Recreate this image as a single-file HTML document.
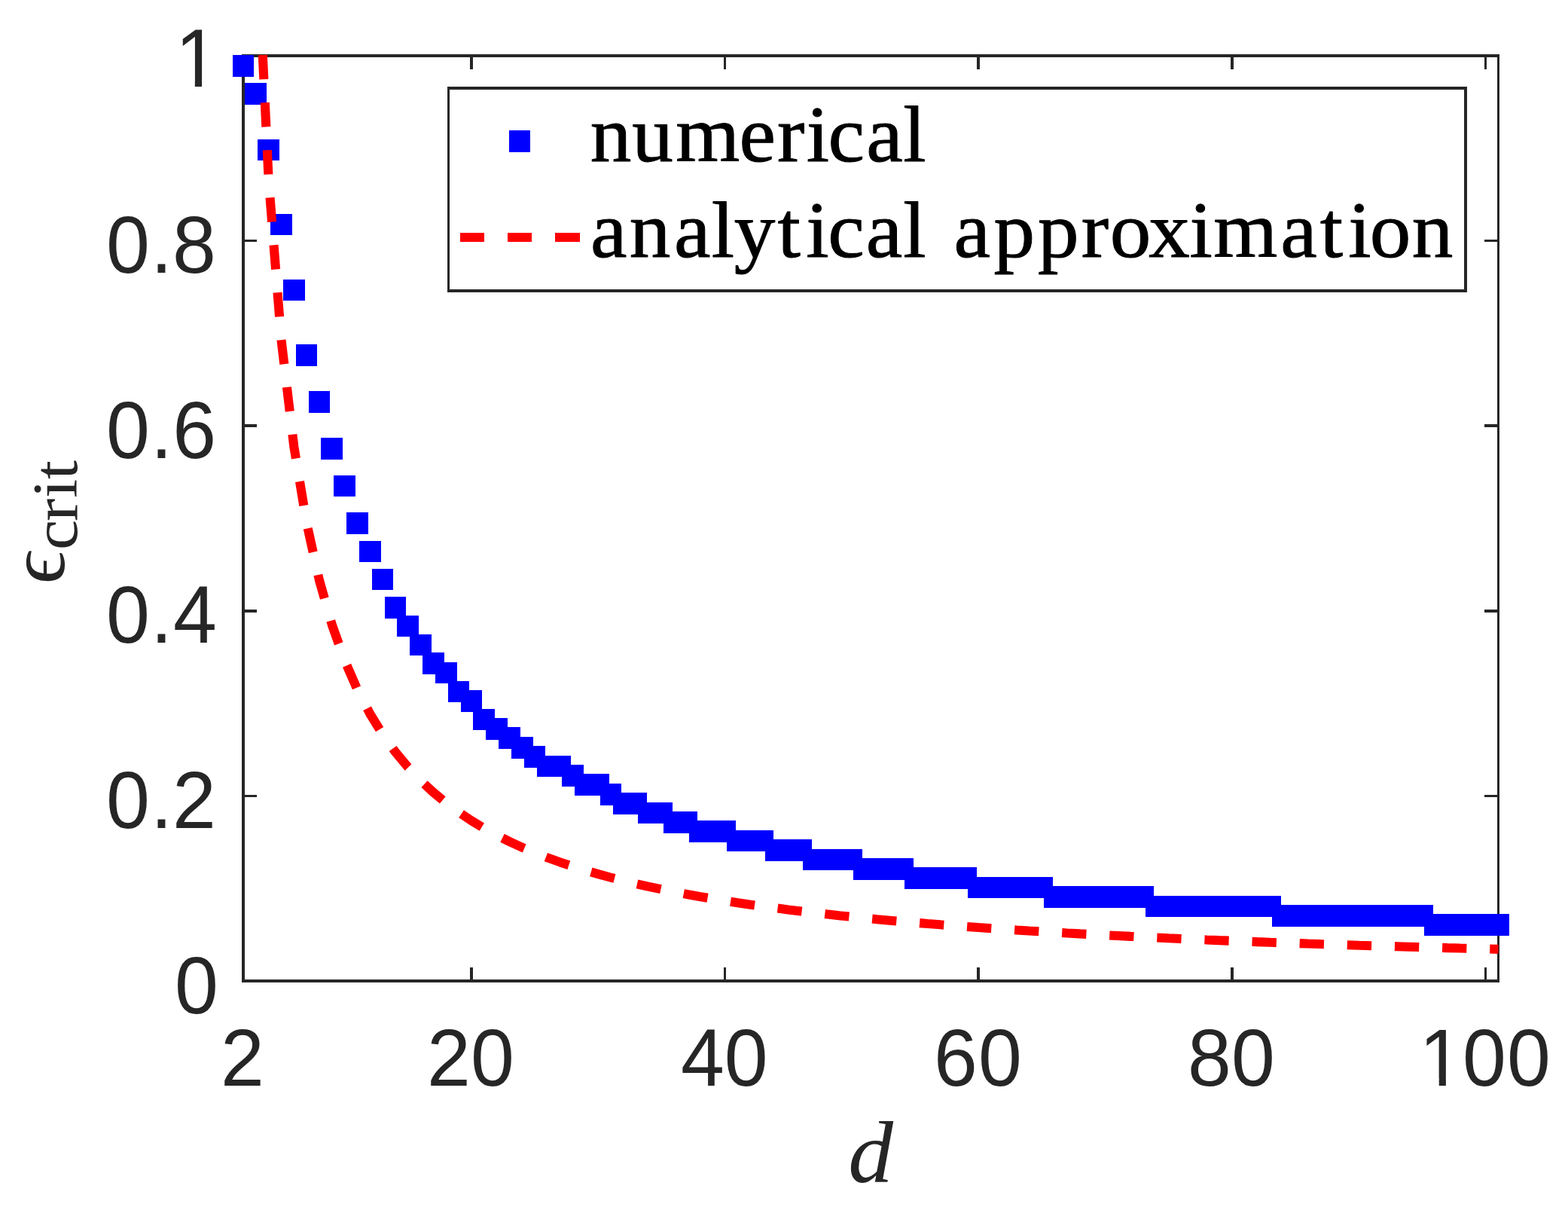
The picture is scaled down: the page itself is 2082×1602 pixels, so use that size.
<!DOCTYPE html>
<html lang="en"><head><meta charset="utf-8"><title>numerical vs analytical approximation</title>
<style>html,body{margin:0;padding:0;background:#fff}body{width:2082px;height:1602px}svg{display:block}text{white-space:pre}.tk{font-family:"Liberation Sans",sans-serif;fill:#262626}.lg{font-family:"Liberation Serif",serif;fill:#000;stroke:#000;stroke-width:1px;stroke-linejoin:round}.mi{font-family:"Liberation Serif",serif;font-style:italic;fill:#262626}.mr{font-family:"Liberation Serif",serif;fill:#262626}</style></head><body>
<svg width="2082" height="1602" viewBox="0 0 2082 1602" role="img" aria-label="Plot of critical epsilon versus d">
<rect x="0" y="0" width="2082" height="1602" fill="#fff"/>
<g id="axes" fill="#262626" shape-rendering="crispEdges">
<rect x="321" y="72" width="4" height="1232"/>
<rect x="1988" y="72" width="3" height="1232"/>
<rect x="321" y="72" width="1670" height="4"/>
<rect x="321" y="1300" width="1670" height="4"/>
<rect x="624" y="1284" width="4" height="16"/>
<rect x="624" y="76" width="4" height="16"/>
<rect x="961" y="1284" width="3" height="16"/>
<rect x="961" y="76" width="3" height="16"/>
<rect x="1297" y="1284" width="4" height="16"/>
<rect x="1297" y="76" width="4" height="16"/>
<rect x="1634" y="1284" width="4" height="16"/>
<rect x="1634" y="76" width="4" height="16"/>
<rect x="1971" y="1284" width="3" height="16"/>
<rect x="1971" y="76" width="3" height="16"/>
<rect x="325" y="318" width="16" height="3"/>
<rect x="1971" y="318" width="17" height="3"/>
<rect x="325" y="563" width="16" height="4"/>
<rect x="1971" y="563" width="17" height="4"/>
<rect x="325" y="809" width="16" height="4"/>
<rect x="1971" y="809" width="17" height="4"/>
<rect x="325" y="1055" width="16" height="3"/>
<rect x="1971" y="1055" width="17" height="3"/>
</g>
<g id="numerical" fill="#0000ff" shape-rendering="crispEdges">
<rect x="309" y="73" width="28" height="29"/>
<rect x="325" y="110" width="29" height="29"/>
<rect x="342" y="185" width="29" height="28"/>
<rect x="359" y="284" width="29" height="28"/>
<rect x="376" y="371" width="29" height="28"/>
<rect x="393" y="457" width="28" height="29"/>
<rect x="410" y="519" width="28" height="29"/>
<rect x="426" y="581" width="29" height="29"/>
<rect x="443" y="631" width="29" height="28"/>
<rect x="460" y="680" width="29" height="29"/>
<rect x="477" y="718" width="29" height="28"/>
<rect x="494" y="755" width="28" height="28"/>
<rect x="511" y="792" width="28" height="29"/>
<rect x="527" y="817" width="29" height="28"/>
<rect x="544" y="842" width="29" height="28"/>
<rect x="561" y="866" width="29" height="29"/>
<rect x="578" y="879" width="29" height="28"/>
<rect x="595" y="904" width="28" height="28"/>
<rect x="612" y="916" width="28" height="29"/>
<rect x="628" y="941" width="29" height="28"/>
<rect x="645" y="953" width="29" height="29"/>
<rect x="662" y="965" width="29" height="29"/>
<rect x="679" y="978" width="29" height="29"/>
<rect x="696" y="990" width="28" height="29"/>
<rect x="713" y="1003" width="28" height="28"/>
<rect x="729" y="1003" width="29" height="28"/>
<rect x="746" y="1015" width="29" height="29"/>
<rect x="763" y="1027" width="29" height="29"/>
<rect x="780" y="1027" width="29" height="29"/>
<rect x="797" y="1040" width="28" height="29"/>
<rect x="814" y="1052" width="28" height="29"/>
<rect x="830" y="1052" width="29" height="29"/>
<rect x="847" y="1065" width="29" height="28"/>
<rect x="864" y="1065" width="29" height="28"/>
<rect x="881" y="1077" width="29" height="29"/>
<rect x="898" y="1077" width="28" height="29"/>
<rect x="915" y="1089" width="28" height="29"/>
<rect x="931" y="1089" width="29" height="29"/>
<rect x="948" y="1089" width="29" height="29"/>
<rect x="965" y="1102" width="29" height="28"/>
<rect x="982" y="1102" width="29" height="28"/>
<rect x="999" y="1102" width="28" height="28"/>
<rect x="1016" y="1114" width="28" height="29"/>
<rect x="1032" y="1114" width="29" height="29"/>
<rect x="1049" y="1114" width="29" height="29"/>
<rect x="1066" y="1127" width="29" height="28"/>
<rect x="1083" y="1127" width="29" height="28"/>
<rect x="1100" y="1127" width="28" height="28"/>
<rect x="1117" y="1127" width="28" height="28"/>
<rect x="1133" y="1139" width="29" height="29"/>
<rect x="1150" y="1139" width="29" height="29"/>
<rect x="1167" y="1139" width="29" height="29"/>
<rect x="1184" y="1139" width="29" height="29"/>
<rect x="1201" y="1151" width="28" height="29"/>
<rect x="1218" y="1151" width="28" height="29"/>
<rect x="1234" y="1151" width="29" height="29"/>
<rect x="1251" y="1151" width="29" height="29"/>
<rect x="1268" y="1151" width="29" height="29"/>
<rect x="1285" y="1164" width="29" height="28"/>
<rect x="1302" y="1164" width="28" height="28"/>
<rect x="1319" y="1164" width="28" height="28"/>
<rect x="1335" y="1164" width="29" height="28"/>
<rect x="1352" y="1164" width="29" height="28"/>
<rect x="1369" y="1164" width="29" height="28"/>
<rect x="1386" y="1176" width="29" height="29"/>
<rect x="1403" y="1176" width="28" height="29"/>
<rect x="1420" y="1176" width="28" height="29"/>
<rect x="1436" y="1176" width="29" height="29"/>
<rect x="1453" y="1176" width="29" height="29"/>
<rect x="1470" y="1176" width="29" height="29"/>
<rect x="1487" y="1176" width="29" height="29"/>
<rect x="1504" y="1176" width="28" height="29"/>
<rect x="1521" y="1189" width="28" height="28"/>
<rect x="1537" y="1189" width="29" height="28"/>
<rect x="1554" y="1189" width="29" height="28"/>
<rect x="1571" y="1189" width="29" height="28"/>
<rect x="1588" y="1189" width="29" height="28"/>
<rect x="1605" y="1189" width="28" height="28"/>
<rect x="1622" y="1189" width="28" height="28"/>
<rect x="1638" y="1189" width="29" height="28"/>
<rect x="1655" y="1189" width="29" height="28"/>
<rect x="1672" y="1189" width="29" height="28"/>
<rect x="1689" y="1201" width="29" height="29"/>
<rect x="1706" y="1201" width="28" height="29"/>
<rect x="1723" y="1201" width="28" height="29"/>
<rect x="1739" y="1201" width="29" height="29"/>
<rect x="1756" y="1201" width="29" height="29"/>
<rect x="1773" y="1201" width="29" height="29"/>
<rect x="1790" y="1201" width="29" height="29"/>
<rect x="1807" y="1201" width="28" height="29"/>
<rect x="1824" y="1201" width="28" height="29"/>
<rect x="1840" y="1201" width="29" height="29"/>
<rect x="1857" y="1201" width="29" height="29"/>
<rect x="1874" y="1201" width="29" height="29"/>
<rect x="1891" y="1213" width="29" height="29"/>
<rect x="1908" y="1213" width="28" height="29"/>
<rect x="1925" y="1213" width="28" height="29"/>
<rect x="1941" y="1213" width="29" height="29"/>
<rect x="1958" y="1213" width="29" height="29"/>
<rect x="1975" y="1213" width="29" height="29"/>
</g>
<path id="analytical" d="M348.80,73.00 L356.67,238.60 L373.50,451.27 L390.34,593.05 L407.17,694.32 L424.00,770.28 L440.84,829.35 L457.67,876.61 L474.51,915.28 L491.34,947.50 L508.17,974.77 L525.01,998.14 L541.84,1018.39 L558.68,1036.11 L575.51,1051.75 L592.34,1065.65 L609.18,1078.09 L626.01,1089.28 L642.85,1099.41 L659.68,1108.61 L676.51,1117.02 L693.35,1124.73 L710.18,1131.81 L727.02,1138.36 L743.85,1144.42 L760.68,1150.04 L777.52,1155.28 L794.35,1160.17 L811.19,1164.74 L828.02,1169.03 L844.85,1173.06 L861.69,1176.85 L878.52,1180.42 L895.36,1183.80 L912.19,1186.99 L929.02,1190.02 L945.86,1192.89 L962.69,1195.62 L979.53,1198.21 L996.36,1200.68 L1013.19,1203.03 L1030.03,1205.28 L1046.86,1207.43 L1063.70,1209.48 L1080.53,1211.45 L1097.36,1213.34 L1114.20,1215.15 L1131.03,1216.88 L1147.87,1218.55 L1164.70,1220.15 L1181.53,1221.70 L1198.37,1223.18 L1215.20,1224.62 L1232.04,1226.00 L1248.87,1227.33 L1265.70,1228.62 L1282.54,1229.86 L1299.37,1231.06 L1316.21,1232.22 L1333.04,1233.35 L1349.87,1234.44 L1366.71,1235.49 L1383.54,1236.51 L1400.38,1237.50 L1417.21,1238.47 L1434.04,1239.40 L1450.88,1240.31 L1467.71,1241.19 L1484.55,1242.04 L1501.38,1242.88 L1518.21,1243.68 L1535.05,1244.47 L1551.88,1245.24 L1568.72,1245.98 L1585.55,1246.71 L1602.38,1247.42 L1619.22,1248.11 L1636.05,1248.78 L1652.89,1249.44 L1669.72,1250.08 L1686.55,1250.70 L1703.39,1251.31 L1720.22,1251.91 L1737.06,1252.49 L1753.89,1253.06 L1770.72,1253.62 L1787.56,1254.16 L1804.39,1254.69 L1821.23,1255.21 L1838.06,1255.72 L1854.89,1256.21 L1871.73,1256.70 L1888.56,1257.18 L1905.40,1257.64 L1922.23,1258.10 L1939.06,1258.55 L1955.90,1258.99 L1972.73,1259.42 L1989.57,1259.84" fill="none" stroke="#ff0000" stroke-width="12.1" stroke-dasharray="32.3 30.87" stroke-linejoin="bevel"/>
<g id="legend">
<rect x="596" y="117" width="1350" height="269" fill="#fff"/>
<g fill="#262626" shape-rendering="crispEdges">
<rect x="594" y="115" width="3" height="273"/>
<rect x="1944" y="115" width="4" height="273"/>
<rect x="594" y="115" width="1354" height="4"/>
<rect x="594" y="384" width="1354" height="4"/>
</g>
<rect x="676" y="173" width="28" height="29" fill="#0000ff" shape-rendering="crispEdges"/>
<g fill="#ff0000" shape-rendering="crispEdges">
<rect x="611" y="309" width="32" height="12"/>
<rect x="674" y="309" width="32" height="12"/>
<rect x="737" y="309" width="33" height="12"/>
</g>
<text class="lg" font-size="105" transform="translate(0,213.90) scale(1.04,1.014)" x="753.63 806.98 862.73 943.87 992.22 1029.54 1057.13 1105.95 1153.20" y="0">numerical</text>
<text class="lg" font-size="105" transform="translate(0,340.90) scale(1.04,1.014)" x="753.94 803.63 860.67 908.49 937.30 992.85 1029.09 1057.03 1105.45 1153.23 1182.40 1217.88 1268.70 1325.05 1380.49 1417.02 1466.67 1518.84 1549.22 1634.80 1685.28 1721.37 1748.85 1802.71" y="0">analytical approximation</text>
</g>
<g id="xticklabels">
<text class="tk" font-size="104" transform="translate(0,1440.70) scale(1,1.03)" x="293.13" y="0">2</text>
<text class="tk" font-size="104" transform="translate(0,1440.70) scale(1,1.03)" x="567.08 625.04" y="0">20</text>
<text class="tk" font-size="104" transform="translate(0,1440.70) scale(1,1.03)" x="903.94 961.88" y="0">40</text>
<text class="tk" font-size="104" transform="translate(0,1440.70) scale(1,1.03)" x="1240.13 1298.98" y="0">60</text>
<text class="tk" font-size="104" transform="translate(0,1440.70) scale(1,1.03)" x="1576.98 1634.98" y="0">80</text>
<clipPath id="c100"><rect x="1879.56" y="-90" width="63.24" height="81.03"/><rect x="1910.72" y="-9.77" width="9.18" height="12"/><rect x="1939.68" y="-90" width="400" height="110"/></clipPath>
<text class="tk" font-size="104" transform="translate(0,1440.70) scale(1,1.03)" x="1884.56 1942.08 2001.08" y="0" clip-path="url(#c100)">100</text>
</g>
<g id="yticklabels">
<clipPath id="c1"><rect x="227.66" y="-90" width="63.24" height="81.03"/><rect x="258.82" y="-9.77" width="9.18" height="12"/><rect x="287.78" y="-90" width="400" height="110"/></clipPath>
<text class="tk" font-size="104" transform="translate(0,114.90) scale(1,1.048)" x="232.66" y="0" clip-path="url(#c1)">1</text>
<text class="tk" font-size="104" transform="translate(0,361.80) scale(1,1.03)" x="140.98 200.05 229.08" y="0">0.8</text>
<text class="tk" font-size="104" transform="translate(0,607.60) scale(1,1.03)" x="140.98 200.05 229.27" y="0">0.6</text>
<text class="tk" font-size="104" transform="translate(0,852.70) scale(1,1.03)" x="140.98 200.05 229.96" y="0">0.4</text>
<text class="tk" font-size="104" transform="translate(0,1098.80) scale(1,1.03)" x="140.98 200.05 229.08" y="0">0.2</text>
<text class="tk" font-size="104" transform="translate(0,1344.80) scale(1,1.03)" x="231.98" y="0">0</text>
</g>
<text id="xlabel" class="mi" font-size="116" transform="translate(1158.10,1569.3) scale(1.03,1)" x="-30.90" y="0">d</text>
<g id="ylabel" transform="translate(85.5,771.05) rotate(-90)">
<text class="mr" font-size="106.4" transform="translate(-1.75,-1) skewX(-4) scale(1.04,1)" x="-4.05" y="0">ϵ</text>
<text class="mr" font-size="84" transform="translate(0,16.4) scale(1.08,1)" x="38.04 73.09 101.81 124.88" y="0">crit</text>
</g>
</svg></body></html>
